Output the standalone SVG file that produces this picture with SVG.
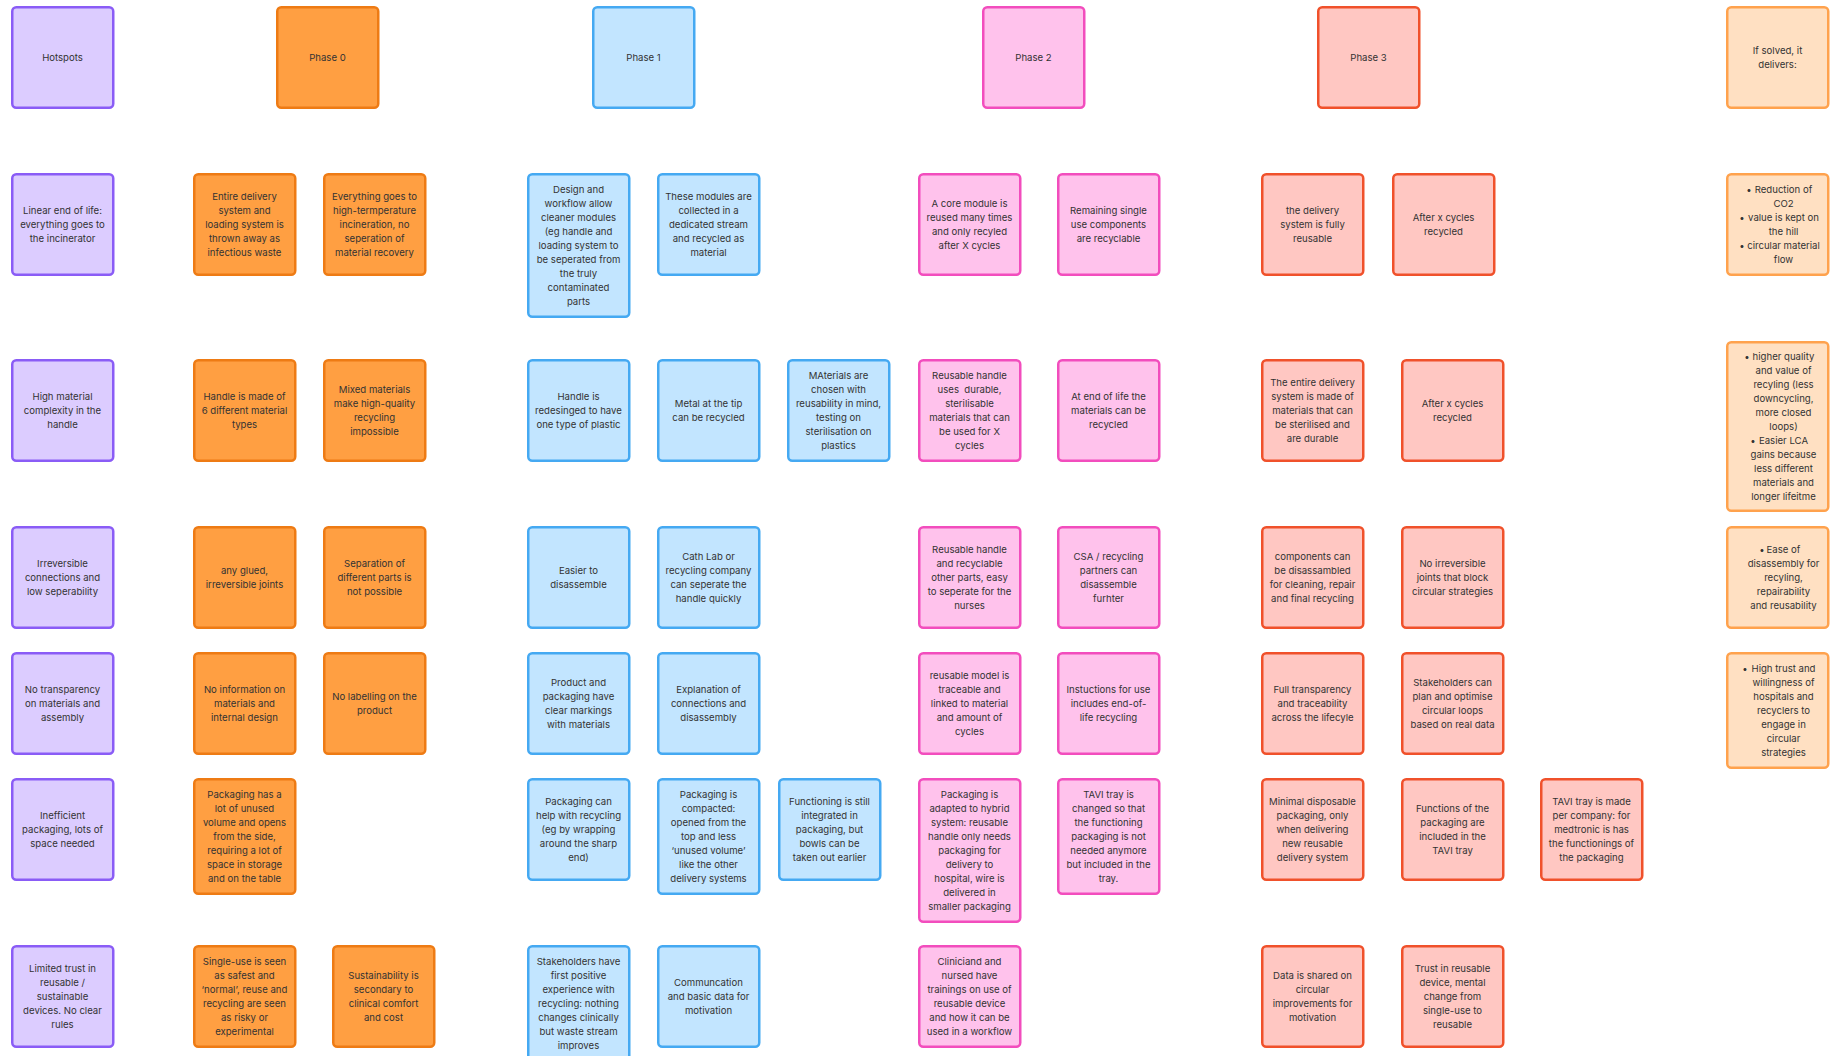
<svg xmlns="http://www.w3.org/2000/svg" width="1831" height="1056" viewBox="0 0 1831 1056">
<style>
rect{stroke-width:2.5}
.h rect{fill:#DCCCFF;stroke:#8A5CF6}
.p0 rect{fill:#FF9F42;stroke:#EE7B14}
.p1 rect{fill:#C2E5FF;stroke:#45A9F2}
.p2 rect{fill:#FFC2EC;stroke:#F24DBD}
.p3 rect{fill:#FFC7C2;stroke:#F0512B}
.s rect{fill:#FFE0C2;stroke:#FFA24D}
text{font-family:Inter,"Liberation Sans",sans-serif;font-size:9.6px;fill:#333;text-anchor:middle}
</style>
<rect x="0" y="0" width="1831" height="1056" fill="#FFFFFF" style="stroke:none"/>
<g id="connectors"/>

<!-- Hotspots column -->
<g id="hotspots-header" class="h"><rect x="12.25" y="7.25" width="101" height="100.5" rx="4"/><text x="62.5" y="61">Hotspots</text></g>
<g id="h1" class="h"><rect x="12.25" y="174.25" width="101" height="100.5" rx="4"/><text x="62.5" y="214"><tspan x="62.5">Linear end of life:</tspan><tspan x="62.5" dy="14">everything goes to</tspan><tspan x="62.5" dy="14">the incinerator</tspan></text></g>
<g id="h2" class="h"><rect x="12.25" y="360.25" width="101" height="100.5" rx="4"/><text x="62.5" y="400"><tspan x="62.5">High material</tspan><tspan x="62.5" dy="14">complexity in the</tspan><tspan x="62.5" dy="14">handle</tspan></text></g>
<g id="h3" class="h"><rect x="12.25" y="527.25" width="101" height="100.5" rx="4"/><text x="62.5" y="567"><tspan x="62.5">Irreversible</tspan><tspan x="62.5" dy="14">connections and</tspan><tspan x="62.5" dy="14">low seperability</tspan></text></g>
<g id="h4" class="h"><rect x="12.25" y="653.25" width="101" height="100.5" rx="4"/><text x="62.5" y="693"><tspan x="62.5">No transparency</tspan><tspan x="62.5" dy="14">on materials and</tspan><tspan x="62.5" dy="14">assembly</tspan></text></g>
<g id="h5" class="h"><rect x="12.25" y="779.25" width="101" height="100.5" rx="4"/><text x="62.5" y="819"><tspan x="62.5">Inefficient</tspan><tspan x="62.5" dy="14">packaging, lots of</tspan><tspan x="62.5" dy="14">space needed</tspan></text></g>
<g id="h6" class="h"><rect x="12.25" y="946.25" width="101" height="100.5" rx="4"/><text x="62.5" y="972"><tspan x="62.5">Limited trust in</tspan><tspan x="62.5" dy="14">reusable /</tspan><tspan x="62.5" dy="14">sustainable</tspan><tspan x="62.5" dy="14">devices. No clear</tspan><tspan x="62.5" dy="14">rules</tspan></text></g>

<!-- Phase 0 -->
<g id="phase0-header" class="p0"><rect x="277.25" y="7.25" width="101" height="100.5" rx="4"/><text x="327.5" y="61">Phase 0</text></g>
<g id="p0-1a" class="p0"><rect x="194.25" y="174.25" width="101" height="100.5" rx="4"/><text x="244.5" y="200"><tspan x="244.5">Entire delivery</tspan><tspan x="244.5" dy="14">system and</tspan><tspan x="244.5" dy="14">loading system is</tspan><tspan x="244.5" dy="14">thrown away as</tspan><tspan x="244.5" dy="14">infectious waste</tspan></text></g>
<g id="p0-1b" class="p0"><rect x="324.25" y="174.25" width="101" height="100.5" rx="4"/><text x="374.5" y="200"><tspan x="374.5">Everything goes to</tspan><tspan x="374.5" dy="14">high-termperature</tspan><tspan x="374.5" dy="14">incineration, no</tspan><tspan x="374.5" dy="14">seperation of</tspan><tspan x="374.5" dy="14">material recovery</tspan></text></g>
<g id="p0-2a" class="p0"><rect x="194.25" y="360.25" width="101" height="100.5" rx="4"/><text x="244.5" y="400"><tspan x="244.5">Handle is made of</tspan><tspan x="244.5" dy="14">6 different material</tspan><tspan x="244.5" dy="14">types</tspan></text></g>
<g id="p0-2b" class="p0"><rect x="324.25" y="360.25" width="101" height="100.5" rx="4"/><text x="374.5" y="393"><tspan x="374.5">Mixed materials</tspan><tspan x="374.5" dy="14">make high-quality</tspan><tspan x="374.5" dy="14">recycling</tspan><tspan x="374.5" dy="14">impossible</tspan></text></g>
<g id="p0-3a" class="p0"><rect x="194.25" y="527.25" width="101" height="100.5" rx="4"/><text x="244.5" y="574"><tspan x="244.5">any glued,</tspan><tspan x="244.5" dy="14">irreversible joints</tspan></text></g>
<g id="p0-3b" class="p0"><rect x="324.25" y="527.25" width="101" height="100.5" rx="4"/><text x="374.5" y="567"><tspan x="374.5">Separation of</tspan><tspan x="374.5" dy="14">different parts is</tspan><tspan x="374.5" dy="14">not possible</tspan></text></g>
<g id="p0-4a" class="p0"><rect x="194.25" y="653.25" width="101" height="100.5" rx="4"/><text x="244.5" y="693"><tspan x="244.5">No information on</tspan><tspan x="244.5" dy="14">materials and</tspan><tspan x="244.5" dy="14">internal design</tspan></text></g>
<g id="p0-4b" class="p0"><rect x="324.25" y="653.25" width="101" height="100.5" rx="4"/><text x="374.5" y="700"><tspan x="374.5">No labelling on the</tspan><tspan x="374.5" dy="14">product</tspan></text></g>
<g id="p0-5a" class="p0"><rect x="194.25" y="779.25" width="101" height="114.5" rx="4"/><text x="244.5" y="798"><tspan x="244.5">Packaging has a</tspan><tspan x="244.5" dy="14">lot of unused</tspan><tspan x="244.5" dy="14">volume and opens</tspan><tspan x="244.5" dy="14">from the side,</tspan><tspan x="244.5" dy="14">requiring a lot of</tspan><tspan x="244.5" dy="14">space in storage</tspan><tspan x="244.5" dy="14">and on the table</tspan></text></g>
<g id="p0-6a" class="p0"><rect x="194.25" y="946.25" width="101" height="100.5" rx="4"/><text x="244.5" y="965"><tspan x="244.5">Single-use is seen</tspan><tspan x="244.5" dy="14">as safest and</tspan><tspan x="244.5" dy="14">‘normal’, reuse and</tspan><tspan x="244.5" dy="14">recycling are seen</tspan><tspan x="244.5" dy="14">as risky or</tspan><tspan x="244.5" dy="14">experimental</tspan></text></g>
<g id="p0-6b" class="p0"><rect x="333.25" y="946.25" width="101" height="100.5" rx="4"/><text x="383.5" y="979"><tspan x="383.5">Sustainability is</tspan><tspan x="383.5" dy="14">secondary to</tspan><tspan x="383.5" dy="14">clinical comfort</tspan><tspan x="383.5" dy="14">and cost</tspan></text></g>

<!-- Phase 1 -->
<g id="phase1-header" class="p1"><rect x="593.25" y="7.25" width="101" height="100.5" rx="4"/><text x="643.5" y="61">Phase 1</text></g>
<g id="p1-1a" class="p1"><rect x="528.25" y="174.25" width="101" height="142.5" rx="4"/><text x="578.5" y="193"><tspan x="578.5">Design and</tspan><tspan x="578.5" dy="14">workflow allow</tspan><tspan x="578.5" dy="14">cleaner modules</tspan><tspan x="578.5" dy="14">(eg handle and</tspan><tspan x="578.5" dy="14">loading system to</tspan><tspan x="578.5" dy="14">be seperated from</tspan><tspan x="578.5" dy="14">the truly</tspan><tspan x="578.5" dy="14">contaminated</tspan><tspan x="578.5" dy="14">parts</tspan></text></g>
<g id="p1-1b" class="p1"><rect x="658.25" y="174.25" width="101" height="100.5" rx="4"/><text x="708.5" y="200"><tspan x="708.5">These modules are</tspan><tspan x="708.5" dy="14">collected in a</tspan><tspan x="708.5" dy="14">dedicated stream</tspan><tspan x="708.5" dy="14">and recycled as</tspan><tspan x="708.5" dy="14">material</tspan></text></g>
<g id="p1-2a" class="p1"><rect x="528.25" y="360.25" width="101" height="100.5" rx="4"/><text x="578.5" y="400"><tspan x="578.5">Handle is</tspan><tspan x="578.5" dy="14">redesinged to have</tspan><tspan x="578.5" dy="14">one type of plastic</tspan></text></g>
<g id="p1-2b" class="p1"><rect x="658.25" y="360.25" width="101" height="100.5" rx="4"/><text x="708.5" y="407"><tspan x="708.5">Metal at the tip</tspan><tspan x="708.5" dy="14">can be recycled</tspan></text></g>
<g id="p1-2c" class="p1"><rect x="788.25" y="360.25" width="101" height="100.5" rx="4"/><text x="838.5" y="379"><tspan x="838.5">MAterials are</tspan><tspan x="838.5" dy="14">chosen with</tspan><tspan x="838.5" dy="14">reusability in mind,</tspan><tspan x="838.5" dy="14">testing on</tspan><tspan x="838.5" dy="14">sterilisation on</tspan><tspan x="838.5" dy="14">plastics</tspan></text></g>
<g id="p1-3a" class="p1"><rect x="528.25" y="527.25" width="101" height="100.5" rx="4"/><text x="578.5" y="574"><tspan x="578.5">Easier to</tspan><tspan x="578.5" dy="14">disassemble</tspan></text></g>
<g id="p1-3b" class="p1"><rect x="658.25" y="527.25" width="101" height="100.5" rx="4"/><text x="708.5" y="560"><tspan x="708.5">Cath Lab or</tspan><tspan x="708.5" dy="14">recycling company</tspan><tspan x="708.5" dy="14">can seperate the</tspan><tspan x="708.5" dy="14">handle quickly</tspan></text></g>
<g id="p1-4a" class="p1"><rect x="528.25" y="653.25" width="101" height="100.5" rx="4"/><text x="578.5" y="686"><tspan x="578.5">Product and</tspan><tspan x="578.5" dy="14">packaging have</tspan><tspan x="578.5" dy="14">clear markings</tspan><tspan x="578.5" dy="14">with materials</tspan></text></g>
<g id="p1-4b" class="p1"><rect x="658.25" y="653.25" width="101" height="100.5" rx="4"/><text x="708.5" y="693"><tspan x="708.5">Explanation of</tspan><tspan x="708.5" dy="14">connections and</tspan><tspan x="708.5" dy="14">disassembly</tspan></text></g>
<g id="p1-5a" class="p1"><rect x="528.25" y="779.25" width="101" height="100.5" rx="4"/><text x="578.5" y="805"><tspan x="578.5">Packaging can</tspan><tspan x="578.5" dy="14">help with recycling</tspan><tspan x="578.5" dy="14">(eg by wrapping</tspan><tspan x="578.5" dy="14">around the sharp</tspan><tspan x="578.5" dy="14">end)</tspan></text></g>
<g id="p1-5b" class="p1"><rect x="658.25" y="779.25" width="101" height="114.5" rx="4"/><text x="708.5" y="798"><tspan x="708.5">Packaging is</tspan><tspan x="708.5" dy="14">compacted:</tspan><tspan x="708.5" dy="14">opened from the</tspan><tspan x="708.5" dy="14">top and less</tspan><tspan x="708.5" dy="14">‘unused volume’</tspan><tspan x="708.5" dy="14">like the other</tspan><tspan x="708.5" dy="14">delivery systems</tspan></text></g>
<g id="p1-5c" class="p1"><rect x="779.25" y="779.25" width="101" height="100.5" rx="4"/><text x="829.5" y="805"><tspan x="829.5">Functioning is still</tspan><tspan x="829.5" dy="14">integrated in</tspan><tspan x="829.5" dy="14">packaging, but</tspan><tspan x="829.5" dy="14">bowls can be</tspan><tspan x="829.5" dy="14">taken out earlier</tspan></text></g>
<g id="p1-6a" class="p1"><rect x="528.25" y="946.25" width="101" height="114.5" rx="4"/><text x="578.5" y="965"><tspan x="578.5">Stakeholders have</tspan><tspan x="578.5" dy="14">first positive</tspan><tspan x="578.5" dy="14">experience with</tspan><tspan x="578.5" dy="14">recycling: nothing</tspan><tspan x="578.5" dy="14">changes clinically</tspan><tspan x="578.5" dy="14">but waste stream</tspan><tspan x="578.5" dy="14">improves</tspan></text></g>
<g id="p1-6b" class="p1"><rect x="658.25" y="946.25" width="101" height="100.5" rx="4"/><text x="708.5" y="986"><tspan x="708.5">Communcation</tspan><tspan x="708.5" dy="14">and basic data for</tspan><tspan x="708.5" dy="14">motivation</tspan></text></g>

<!-- Phase 2 -->
<g id="phase2-header" class="p2"><rect x="983.25" y="7.25" width="101" height="100.5" rx="4"/><text x="1033.5" y="61">Phase 2</text></g>
<g id="p2-1a" class="p2"><rect x="919.25" y="174.25" width="101" height="100.5" rx="4"/><text x="969.5" y="207"><tspan x="969.5">A core module is</tspan><tspan x="969.5" dy="14">reused many times</tspan><tspan x="969.5" dy="14">and only recyled</tspan><tspan x="969.5" dy="14">after X cycles</tspan></text></g>
<g id="p2-1b" class="p2"><rect x="1058.25" y="174.25" width="101" height="100.5" rx="4"/><text x="1108.5" y="214"><tspan x="1108.5">Remaining single</tspan><tspan x="1108.5" dy="14">use components</tspan><tspan x="1108.5" dy="14">are recyclable</tspan></text></g>
<g id="p2-2a" class="p2"><rect x="919.25" y="360.25" width="101" height="100.5" rx="4"/><text x="969.5" y="379"><tspan x="969.5">Reusable handle</tspan><tspan x="969.5" dy="14">uses&#160; durable,</tspan><tspan x="969.5" dy="14">sterilisable</tspan><tspan x="969.5" dy="14">materials that can</tspan><tspan x="969.5" dy="14">be used for X</tspan><tspan x="969.5" dy="14">cycles</tspan></text></g>
<g id="p2-2b" class="p2"><rect x="1058.25" y="360.25" width="101" height="100.5" rx="4"/><text x="1108.5" y="400"><tspan x="1108.5">At end of life the</tspan><tspan x="1108.5" dy="14">materials can be</tspan><tspan x="1108.5" dy="14">recycled</tspan></text></g>
<g id="p2-3a" class="p2"><rect x="919.25" y="527.25" width="101" height="100.5" rx="4"/><text x="969.5" y="553"><tspan x="969.5">Reusable handle</tspan><tspan x="969.5" dy="14">and recyclable</tspan><tspan x="969.5" dy="14">other parts, easy</tspan><tspan x="969.5" dy="14">to seperate for the</tspan><tspan x="969.5" dy="14">nurses</tspan></text></g>
<g id="p2-3b" class="p2"><rect x="1058.25" y="527.25" width="101" height="100.5" rx="4"/><text x="1108.5" y="560"><tspan x="1108.5">CSA / recycling</tspan><tspan x="1108.5" dy="14">partners can</tspan><tspan x="1108.5" dy="14">disassemble</tspan><tspan x="1108.5" dy="14">furhter</tspan></text></g>
<g id="p2-4a" class="p2"><rect x="919.25" y="653.25" width="101" height="100.5" rx="4"/><text x="969.5" y="679"><tspan x="969.5">reusable model is</tspan><tspan x="969.5" dy="14">traceable and</tspan><tspan x="969.5" dy="14">linked to material</tspan><tspan x="969.5" dy="14">and amount of</tspan><tspan x="969.5" dy="14">cycles</tspan></text></g>
<g id="p2-4b" class="p2"><rect x="1058.25" y="653.25" width="101" height="100.5" rx="4"/><text x="1108.5" y="693"><tspan x="1108.5">Instuctions for use</tspan><tspan x="1108.5" dy="14">includes end-of-</tspan><tspan x="1108.5" dy="14">life recycling</tspan></text></g>
<g id="p2-5a" class="p2"><rect x="919.25" y="779.25" width="101" height="142.5" rx="4"/><text x="969.5" y="798"><tspan x="969.5">Packaging is</tspan><tspan x="969.5" dy="14">adapted to hybrid</tspan><tspan x="969.5" dy="14">system: reusable</tspan><tspan x="969.5" dy="14">handle only needs</tspan><tspan x="969.5" dy="14">packaging for</tspan><tspan x="969.5" dy="14">delivery to</tspan><tspan x="969.5" dy="14">hospital, wire is</tspan><tspan x="969.5" dy="14">delivered in</tspan><tspan x="969.5" dy="14">smaller packaging</tspan></text></g>
<g id="p2-5b" class="p2"><rect x="1058.25" y="779.25" width="101" height="114.5" rx="4"/><text x="1108.5" y="798"><tspan x="1108.5">TAVI tray is</tspan><tspan x="1108.5" dy="14">changed so that</tspan><tspan x="1108.5" dy="14">the functioning</tspan><tspan x="1108.5" dy="14">packaging is not</tspan><tspan x="1108.5" dy="14">needed anymore</tspan><tspan x="1108.5" dy="14">but included in the</tspan><tspan x="1108.5" dy="14">tray.</tspan></text></g>
<g id="p2-6a" class="p2"><rect x="919.25" y="946.25" width="101" height="100.5" rx="4"/><text x="969.5" y="965"><tspan x="969.5">Cliniciand and</tspan><tspan x="969.5" dy="14">nursed have</tspan><tspan x="969.5" dy="14">trainings on use of</tspan><tspan x="969.5" dy="14">reusable device</tspan><tspan x="969.5" dy="14">and how it can be</tspan><tspan x="969.5" dy="14">used in a workflow</tspan></text></g>

<!-- Phase 3 -->
<g id="phase3-header" class="p3"><rect x="1318.25" y="7.25" width="101" height="100.5" rx="4"/><text x="1368.5" y="61">Phase 3</text></g>
<g id="p3-1a" class="p3"><rect x="1262.25" y="174.25" width="101" height="100.5" rx="4"/><text x="1312.5" y="214"><tspan x="1312.5">the delivery</tspan><tspan x="1312.5" dy="14">system is fully</tspan><tspan x="1312.5" dy="14">reusable</tspan></text></g>
<g id="p3-1b" class="p3"><rect x="1393.25" y="174.25" width="101" height="100.5" rx="4"/><text x="1443.5" y="221"><tspan x="1443.5">After x cycles</tspan><tspan x="1443.5" dy="14">recycled</tspan></text></g>
<g id="p3-2a" class="p3"><rect x="1262.25" y="360.25" width="101" height="100.5" rx="4"/><text x="1312.5" y="386"><tspan x="1312.5">The entire delivery</tspan><tspan x="1312.5" dy="14">system is made of</tspan><tspan x="1312.5" dy="14">materials that can</tspan><tspan x="1312.5" dy="14">be sterilised and</tspan><tspan x="1312.5" dy="14">are durable</tspan></text></g>
<g id="p3-2b" class="p3"><rect x="1402.25" y="360.25" width="101" height="100.5" rx="4"/><text x="1452.5" y="407"><tspan x="1452.5">After x cycles</tspan><tspan x="1452.5" dy="14">recycled</tspan></text></g>
<g id="p3-3a" class="p3"><rect x="1262.25" y="527.25" width="101" height="100.5" rx="4"/><text x="1312.5" y="560"><tspan x="1312.5">components can</tspan><tspan x="1312.5" dy="14">be disassambled</tspan><tspan x="1312.5" dy="14">for cleaning, repair</tspan><tspan x="1312.5" dy="14">and final recycling</tspan></text></g>
<g id="p3-3b" class="p3"><rect x="1402.25" y="527.25" width="101" height="100.5" rx="4"/><text x="1452.5" y="567"><tspan x="1452.5">No irreversible</tspan><tspan x="1452.5" dy="14">joints that block</tspan><tspan x="1452.5" dy="14">circular strategies</tspan></text></g>
<g id="p3-4a" class="p3"><rect x="1262.25" y="653.25" width="101" height="100.5" rx="4"/><text x="1312.5" y="693"><tspan x="1312.5">Full transparency</tspan><tspan x="1312.5" dy="14">and traceability</tspan><tspan x="1312.5" dy="14">across the lifecyle</tspan></text></g>
<g id="p3-4b" class="p3"><rect x="1402.25" y="653.25" width="101" height="100.5" rx="4"/><text x="1452.5" y="686"><tspan x="1452.5">Stakeholders can</tspan><tspan x="1452.5" dy="14">plan and optimise</tspan><tspan x="1452.5" dy="14">circular loops</tspan><tspan x="1452.5" dy="14">based on real data</tspan></text></g>
<g id="p3-5a" class="p3"><rect x="1262.25" y="779.25" width="101" height="100.5" rx="4"/><text x="1312.5" y="805"><tspan x="1312.5">Minimal disposable</tspan><tspan x="1312.5" dy="14">packaging, only</tspan><tspan x="1312.5" dy="14">when delivering</tspan><tspan x="1312.5" dy="14">new reusable</tspan><tspan x="1312.5" dy="14">delivery system</tspan></text></g>
<g id="p3-5b" class="p3"><rect x="1402.25" y="779.25" width="101" height="100.5" rx="4"/><text x="1452.5" y="812"><tspan x="1452.5">Functions of the</tspan><tspan x="1452.5" dy="14">packaging are</tspan><tspan x="1452.5" dy="14">included in the</tspan><tspan x="1452.5" dy="14">TAVI tray</tspan></text></g>
<g id="p3-5c" class="p3"><rect x="1541.25" y="779.25" width="101" height="100.5" rx="4"/><text x="1591.5" y="805"><tspan x="1591.5">TAVI tray is made</tspan><tspan x="1591.5" dy="14">per company: for</tspan><tspan x="1591.5" dy="14">medtronic is has</tspan><tspan x="1591.5" dy="14">the functionings of</tspan><tspan x="1591.5" dy="14">the packaging</tspan></text></g>
<g id="p3-6a" class="p3"><rect x="1262.25" y="946.25" width="101" height="100.5" rx="4"/><text x="1312.5" y="979"><tspan x="1312.5">Data is shared on</tspan><tspan x="1312.5" dy="14">circular</tspan><tspan x="1312.5" dy="14">improvements for</tspan><tspan x="1312.5" dy="14">motivation</tspan></text></g>
<g id="p3-6b" class="p3"><rect x="1402.25" y="946.25" width="101" height="100.5" rx="4"/><text x="1452.5" y="972"><tspan x="1452.5">Trust in reusable</tspan><tspan x="1452.5" dy="14">device, mental</tspan><tspan x="1452.5" dy="14">change from</tspan><tspan x="1452.5" dy="14">single-use to</tspan><tspan x="1452.5" dy="14">reusable</tspan></text></g>

<!-- If solved column -->
<g id="solved-header" class="s"><rect x="1727.25" y="7.25" width="101" height="100.5" rx="4"/><text x="1777.5" y="54"><tspan x="1777.5">If solved, it</tspan><tspan x="1777.5" dy="14">delivers:</tspan></text></g>
<g id="s1" class="s"><rect x="1727.25" y="174.25" width="101" height="100.5" rx="4"/><text x="1783.5" y="193"><tspan x="1783.5">Reduction of</tspan><tspan x="1783.5" dy="14">CO2</tspan><tspan x="1783.5" dy="14">value is kept on</tspan><tspan x="1783.5" dy="14">the hill</tspan><tspan x="1783.5" dy="14">circular material</tspan><tspan x="1783.5" dy="14">flow</tspan></text><text x="1749" y="193">•</text><text x="1742" y="221">•</text><text x="1742" y="249">•</text></g>
<g id="s2" class="s"><rect x="1727.25" y="342.25" width="101" height="168.5" rx="4"/><text x="1783.5" y="360"><tspan x="1783.5">higher quality</tspan><tspan x="1783.5" dy="14">and value of</tspan><tspan x="1783.5" dy="14">recyling (less</tspan><tspan x="1783.5" dy="14">downcycling,</tspan><tspan x="1783.5" dy="14">more closed</tspan><tspan x="1783.5" dy="14">loops)</tspan><tspan x="1783.5" dy="14">Easier LCA</tspan><tspan x="1783.5" dy="14">gains because</tspan><tspan x="1783.5" dy="14">less different</tspan><tspan x="1783.5" dy="14">materials and</tspan><tspan x="1783.5" dy="14">longer lifeitme</tspan></text><text x="1747" y="360">•</text><text x="1753" y="444">•</text></g>
<g id="s3" class="s"><rect x="1727.25" y="527.25" width="101" height="100.5" rx="4"/><text x="1783.5" y="553"><tspan x="1783.5">Ease of</tspan><tspan x="1783.5" dy="14">disassembly for</tspan><tspan x="1783.5" dy="14">recyling,</tspan><tspan x="1783.5" dy="14">repairability</tspan><tspan x="1783.5" dy="14">and reusability</tspan></text><text x="1762" y="553">•</text></g>
<g id="s4" class="s"><rect x="1727.25" y="653.25" width="101" height="114.5" rx="4"/><text x="1783.5" y="672"><tspan x="1783.5">High trust and</tspan><tspan x="1783.5" dy="14">willingness of</tspan><tspan x="1783.5" dy="14">hospitals and</tspan><tspan x="1783.5" dy="14">recyclers to</tspan><tspan x="1783.5" dy="14">engage in</tspan><tspan x="1783.5" dy="14">circular</tspan><tspan x="1783.5" dy="14">strategies</tspan></text><text x="1745" y="672">•</text></g>
</svg>
